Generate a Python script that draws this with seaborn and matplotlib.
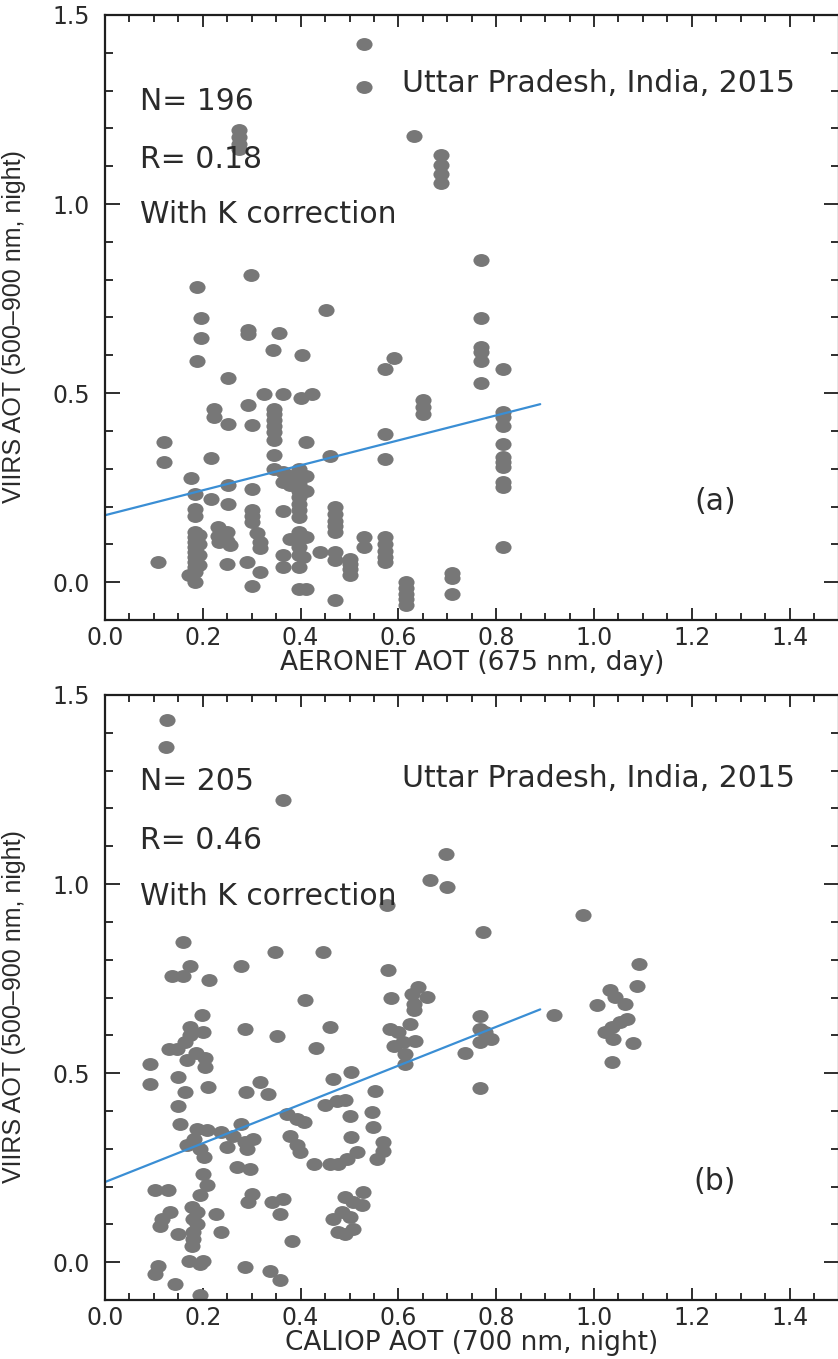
import matplotlib
matplotlib.use("Agg")
import matplotlib.pyplot as plt
import numpy as np
import pandas as pd
import seaborn as sns
from matplotlib.path import Path
from matplotlib.ticker import MultipleLocator, FormatStrFormatter

# ---------------------------------------------------------------------------
# Panel (a): AERONET AOT (675 nm, day) vs VIIRS AOT (500-900 nm, night)
points_a = [
    (0.109, 0.053),
    (0.121, 0.370), (0.121, 0.319),
    (0.172, 0.018),
    (0.176, 0.276),
    (0.189, 0.780), (0.196, 0.698), (0.196, 0.646), (0.189, 0.584),
    (0.184, 0.234), (0.184, 0.194), (0.184, 0.176), (0.184, 0.132), (0.184, 0.119),
    (0.184, 0.106), (0.184, 0.093), (0.184, 0.079), (0.184, 0.066), (0.184, 0.053),
    (0.184, 0.040), (0.184, 0.026), (0.184, 0.000),
    (0.193, 0.125), (0.193, 0.100), (0.193, 0.072), (0.193, 0.045),
    (0.216, 0.329), (0.216, 0.220),
    (0.222, 0.459), (0.222, 0.437),
    (0.231, 0.145), (0.231, 0.123), (0.234, 0.106),
    (0.249, 0.132), (0.249, 0.110), (0.249, 0.048),
    (0.252, 0.540), (0.252, 0.417), (0.252, 0.256), (0.252, 0.207),
    (0.256, 0.097),
    (0.275, 1.195), (0.275, 1.178), (0.275, 1.160), (0.275, 1.145),
    (0.290, 0.053),
    (0.293, 0.668), (0.293, 0.656), (0.293, 0.469),
    (0.299, 0.811),
    (0.300, 0.415), (0.300, 0.247), (0.300, 0.190), (0.300, 0.175), (0.300, 0.160),
    (0.300, -0.011),
    (0.310, 0.130), (0.317, 0.107), (0.317, 0.090), (0.317, 0.026),
    (0.326, 0.498),
    (0.344, 0.613),
    (0.346, 0.458), (0.346, 0.444), (0.346, 0.429), (0.346, 0.414), (0.346, 0.398),
    (0.346, 0.375), (0.346, 0.337), (0.346, 0.300),
    (0.355, 0.660),
    (0.363, 0.498), (0.363, 0.291), (0.363, 0.265), (0.363, 0.188), (0.363, 0.071),
    (0.363, 0.040),
    (0.378, 0.282), (0.378, 0.258), (0.378, 0.115),
    (0.397, 0.300), (0.397, 0.282), (0.397, 0.260), (0.397, 0.242), (0.397, 0.225),
    (0.397, 0.207), (0.397, 0.190), (0.397, 0.172), (0.397, 0.132), (0.397, 0.115),
    (0.397, 0.093), (0.397, 0.071), (0.397, 0.040), (0.397, -0.019),
    (0.400, 0.488), (0.402, 0.602), (0.405, 0.066),
    (0.412, 0.370), (0.412, 0.282), (0.412, 0.242), (0.412, 0.119), (0.412, -0.019),
    (0.423, 0.498), (0.440, 0.081), (0.451, 0.721), (0.460, 0.333),
    (0.470, 0.198), (0.470, 0.180), (0.470, 0.163), (0.470, 0.148), (0.470, 0.133),
    (0.470, 0.079), (0.470, 0.058), (0.470, -0.048),
    (0.500, 0.062), (0.500, 0.048), (0.500, 0.034), (0.500, 0.020),
    (0.530, 1.424), (0.530, 1.310), (0.530, 0.119), (0.530, 0.093),
    (0.573, 0.564), (0.573, 0.392), (0.573, 0.326), (0.573, 0.119), (0.573, 0.101),
    (0.573, 0.083), (0.573, 0.066), (0.573, 0.052),
    (0.591, 0.593),
    (0.616, 0.000), (0.616, -0.015), (0.616, -0.030), (0.616, -0.045), (0.616, -0.060),
    (0.631, 1.179),
    (0.651, 0.481), (0.651, 0.463), (0.651, 0.445),
    (0.688, 1.129), (0.688, 1.104), (0.688, 1.080), (0.688, 1.056),
    (0.709, 0.025), (0.709, 0.010), (0.709, -0.031),
    (0.768, 0.851), (0.768, 0.698), (0.768, 0.622), (0.768, 0.608), (0.768, 0.586),
    (0.768, 0.526),
    (0.813, 0.564), (0.813, 0.450), (0.813, 0.437), (0.813, 0.414), (0.813, 0.366),
    (0.813, 0.331), (0.813, 0.318), (0.813, 0.305), (0.813, 0.265), (0.813, 0.251),
    (0.813, 0.093),
]

# Panel (b): CALIOP AOT (700 nm, night) vs VIIRS AOT (500-900 nm, night)
points_b = [
    # high values
    (0.126, 1.435), (0.124, 1.362), (0.365, 1.221), (0.697, 1.080), (0.665, 1.011),
    (0.700, 0.992), (0.576, 0.945), (0.772, 0.873), (0.978, 0.917),
    # 0.7 - 0.85
    (0.160, 0.848), (0.174, 0.782), (0.136, 0.756), (0.159, 0.756), (0.213, 0.745),
    (0.278, 0.782), (0.348, 0.820), (0.446, 0.820), (0.579, 0.772), (0.409, 0.694),
    (0.584, 0.698),
    (0.641, 0.728), (0.627, 0.710), (0.659, 0.701), (0.631, 0.683), (0.631, 0.666),
    # right-hand group
    (1.093, 0.789), (1.087, 0.730), (1.033, 0.719), (1.043, 0.701), (1.063, 0.684),
    (1.006, 0.679), (0.919, 0.654), (0.766, 0.650), (0.766, 0.617), (0.777, 0.608),
    (0.790, 0.589), (0.767, 0.582), (0.736, 0.554), (0.766, 0.460), (1.036, 0.529),
    (1.079, 0.580), (1.067, 0.643), (1.054, 0.636), (1.036, 0.622), (1.023, 0.608),
    (1.039, 0.589),
    # left, 0.35 - 0.65
    (0.198, 0.653), (0.201, 0.608), (0.174, 0.621), (0.174, 0.600), (0.164, 0.582),
    (0.147, 0.564), (0.130, 0.564), (0.091, 0.525), (0.092, 0.472), (0.167, 0.534),
    (0.186, 0.552), (0.205, 0.539), (0.205, 0.517), (0.150, 0.489), (0.164, 0.450),
    (0.211, 0.463), (0.150, 0.414), (0.153, 0.366),
    (0.286, 0.617), (0.352, 0.597), (0.431, 0.566), (0.460, 0.622),
    (0.583, 0.617), (0.600, 0.608), (0.624, 0.630), (0.610, 0.582), (0.590, 0.573),
    (0.634, 0.584), (0.613, 0.551), (0.613, 0.525),
    # middle, 0.25 - 0.5
    (0.316, 0.476), (0.288, 0.450), (0.333, 0.444), (0.467, 0.485), (0.504, 0.503),
    (0.552, 0.454), (0.450, 0.417), (0.474, 0.426), (0.490, 0.428), (0.501, 0.386),
    (0.545, 0.397), (0.549, 0.357), (0.504, 0.331), (0.569, 0.317), (0.569, 0.295),
    (0.556, 0.273), (0.515, 0.291), (0.494, 0.273), (0.477, 0.260), (0.460, 0.260),
    (0.428, 0.260), (0.372, 0.392), (0.392, 0.379), (0.406, 0.370), (0.378, 0.335),
    (0.392, 0.309), (0.399, 0.291),
    (0.188, 0.353), (0.208, 0.349), (0.238, 0.344), (0.262, 0.335), (0.279, 0.366),
    (0.167, 0.309), (0.181, 0.326), (0.194, 0.300), (0.202, 0.278), (0.249, 0.304),
    (0.290, 0.300), (0.287, 0.318), (0.303, 0.326), (0.269, 0.251), (0.297, 0.247),
    # column near 0.19
    (0.201, 0.233), (0.208, 0.203), (0.194, 0.177), (0.177, 0.146), (0.188, 0.133),
    (0.180, 0.115), (0.188, 0.102), (0.180, 0.079), (0.180, 0.062), (0.177, 0.044),
    (0.172, 0.004), (0.201, 0.004), (0.194, -0.004), (0.194, -0.088),
    # low values
    (0.102, 0.190), (0.129, 0.190), (0.133, 0.133), (0.116, 0.115), (0.113, 0.097),
    (0.150, 0.075), (0.228, 0.128), (0.238, 0.079), (0.109, -0.009), (0.102, -0.031),
    (0.143, -0.057), (0.286, -0.013), (0.337, -0.022), (0.357, -0.048), (0.382, 0.055),
    (0.300, 0.180), (0.293, 0.158), (0.341, 0.158), (0.365, 0.167), (0.358, 0.128),
    (0.467, 0.115), (0.484, 0.133), (0.477, 0.079), (0.508, 0.088), (0.491, 0.172),
    (0.508, 0.159), (0.528, 0.185), (0.525, 0.150), (0.501, 0.119), (0.491, 0.075),
]

# Linear fits (intercept, slope) drawn over 0 .. fit_xmax
fit_a = (0.177, 0.330)
fit_b = (0.212, 0.513)
fit_xmax = 0.89

annot_a = ["N= 196", "R= 0.18", "With K correction"]
annot_b = ["N= 205", "R= 0.46", "With K correction"]
site_label = "Uttar Pradesh, India, 2015"
panel_tags = ["(a)", "(b)"]
x_labels = ["AERONET AOT (675 nm, day)", "CALIOP AOT (700 nm, night)"]
y_label = "VIIRS AOT (500\u2013900 nm, night)"

# ---------------------------------------------------------------------------
sns.set_theme(style="white")
plt.rcParams["font.family"] = ["DejaVu Sans"]
plt.rcParams["text.color"] = "#2a2a2a"

DOT = "#777777"
LINE = "#3a8ed4"
INK = "#1e1e1e"

# slightly wide elliptical dot
circ = Path.unit_circle()
ellipse = Path(circ.vertices * np.array([1.25, 1.0]), circ.codes)

fig = plt.figure(figsize=(8.38, 13.59), dpi=100)
ax_a = fig.add_axes([0.1253, 0.5438, 0.8753, 0.4452])
ax_b = fig.add_axes([0.1253, 0.0434, 0.8753, 0.4452])


def draw_panel(ax, pts, fit, annot, tag, xlabel, site_y, text_ys):
    df = pd.DataFrame(pts, columns=["x", "y"])
    sns.scatterplot(data=df, x="x", y="y", ax=ax, color=DOT, marker=ellipse,
                    s=135, linewidth=0, legend=False)
    b0, b1 = fit
    fx = [0.0, fit_xmax]
    fy = [b0 + b1 * v for v in fx]
    sns.lineplot(x=fx, y=fy, ax=ax, color=LINE, linewidth=1.6)

    ax.set_xlim(0, 1.5)
    ax.set_ylim(-0.1, 1.5)
    ax.xaxis.set_major_locator(MultipleLocator(0.2))
    ax.xaxis.set_minor_locator(MultipleLocator(0.05))
    ax.yaxis.set_major_locator(MultipleLocator(0.5))
    ax.yaxis.set_minor_locator(MultipleLocator(0.1))
    ax.xaxis.set_major_formatter(FormatStrFormatter("%.1f"))
    ax.yaxis.set_major_formatter(FormatStrFormatter("%.1f"))
    ax.tick_params(which="both", direction="in", top=True, right=True,
                   bottom=True, left=True, colors=INK, width=1.3,
                   labelsize=17, labelcolor="#2a2a2a")
    ax.tick_params(axis="x", which="major", length=8.5, pad=4)
    ax.tick_params(axis="x", which="minor", length=5)
    ax.tick_params(axis="y", which="major", length=10.5, pad=11)
    ax.tick_params(axis="y", which="minor", length=5.5)
    for sp in ax.spines.values():
        sp.set_linewidth(1.6)
        sp.set_color(INK)

    ax.set_xlabel(xlabel, fontsize=19, labelpad=0, color="#2a2a2a")
    ax.set_ylabel(y_label, fontsize=18, color="#2a2a2a",
                  family=["Liberation Sans", "DejaVu Sans"])
    ax.yaxis.set_label_coords(-0.108, 0.485)

    for s, yy in zip(annot, text_ys):
        ax.text(0.072, yy, s, fontsize=21.5, va="center", ha="left")
    ax.text(0.607, site_y, site_label, fontsize=21.5, va="center", ha="left")
    ax.text(1.247, 0.213, tag, fontsize=21.5, va="center", ha="center")


draw_panel(ax_a, points_a, fit_a, annot_a, panel_tags[0], x_labels[0],
           1.318, [1.272, 1.119, 0.973])
draw_panel(ax_b, points_b, fit_b, annot_b, panel_tags[1], x_labels[1],
           1.278, [1.272, 1.116, 0.968])

fig.savefig("out.png", dpi=100)
